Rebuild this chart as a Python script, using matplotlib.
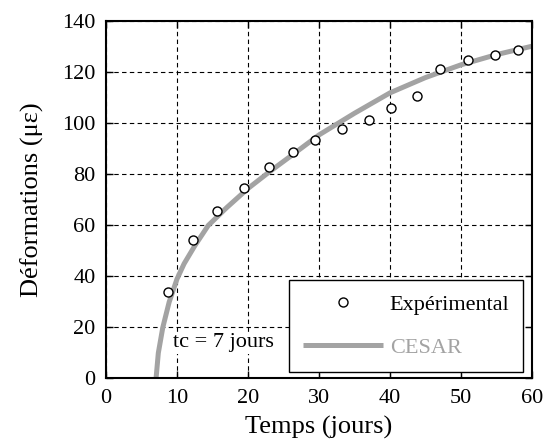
import matplotlib
matplotlib.use("Agg")
import matplotlib.pyplot as plt

# Experimental data (days, microstrain)
exp_t = [8.7, 12.3, 15.7, 19.4, 23.0, 26.4, 29.5, 33.2, 37.0, 40.1, 43.8, 47.0, 51.0, 54.8, 58.1]
exp_def = [34.0, 54.2, 65.5, 74.6, 82.8, 88.8, 93.5, 97.8, 101.5, 105.9, 110.8, 121.3, 124.9, 127.0, 128.8]

# CESAR simulation curve
cesar_t = [7.05, 7.37, 8.0, 8.9, 10.0, 11.0, 12.5, 14.4, 17.0, 20.0, 23.0, 26.4, 30.0, 35.0, 40.0, 45.0, 50.0, 55.0, 60.0]
cesar_def = [0, 10, 20, 30, 39, 45, 52, 60, 67, 74.5, 81, 88, 95.5, 104, 112, 118, 123, 127, 130.3]

xticks = [0, 10, 20, 30, 40, 50, 60]
yticks = [0, 20, 40, 60, 80, 100, 120, 140]

plt.rcParams['font.family'] = ['Liberation Serif', 'DejaVu Serif']

fig = plt.figure(figsize=(5.45, 4.42), dpi=100)
ax = fig.add_axes([0.1945, 0.1437, 0.7815, 0.8077])

ax.grid(True, color='black', linestyle=(0, (4, 3)), linewidth=0.8)
ax.set_axisbelow(True)

ax.plot(cesar_t, cesar_def, color='#a3a3a3', linewidth=3.6, solid_capstyle='butt',
        label='CESAR', zorder=2)
ax.plot(exp_t, exp_def, linestyle='none', marker='o', markersize=6.5,
        markerfacecolor='white', markeredgecolor='black', markeredgewidth=1.0,
        label='Expérimental', zorder=3)

ax.set_xlim(0, 60)
ax.set_ylim(0, 140)
ax.set_xticks(xticks)
ax.set_yticks(yticks)
ax.tick_params(direction='in', length=5, width=1, top=True, right=True,
               labelsize=16, pad=7.5, colors='black')
for s in ax.spines.values():
    s.set_linewidth(1.5)
    s.set_color('black')

ax.set_xlabel('Temps (jours)', fontsize=19, labelpad=6)
ax.set_ylabel('Déformations (με)', fontsize=19, labelpad=13)

ax.text(9.4, 14, 'tc = 7 jours', fontsize=16, va='center', ha='left',
        bbox=dict(facecolor='white', edgecolor='none', pad=1))

h, l = ax.get_legend_handles_labels()
leg = ax.legend(h[::-1], l[::-1], loc='lower right', bbox_to_anchor=(0.98, 0.019),
                fontsize=16, frameon=True, fancybox=False, framealpha=1,
                edgecolor='black', handlelength=3.6, handletextpad=0.3,
                borderpad=0.63, labelspacing=1.0, borderaxespad=0)
leg.get_frame().set_linewidth(1.0)
leg.get_texts()[1].set_color('#a3a3a3')

fig.savefig('out.png', dpi=100)
